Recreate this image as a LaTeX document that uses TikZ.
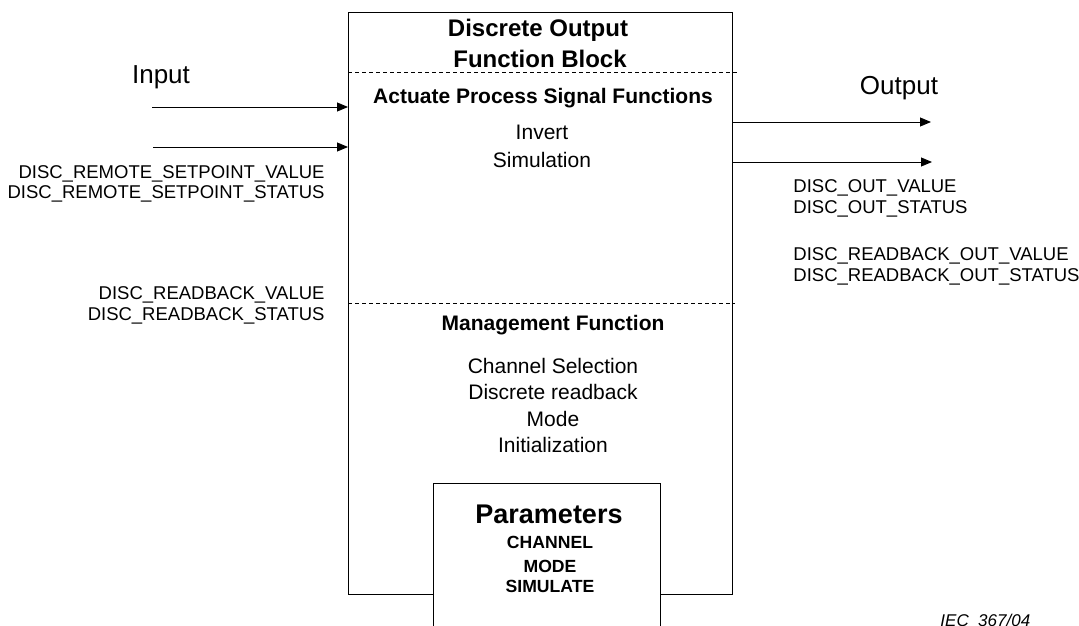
\documentclass[tikz,border=0pt]{standalone}
\usepackage{fontspec}
\setmainfont{Liberation Sans}
\usetikzlibrary{calc}
\usetikzlibrary{arrows.meta}

\tikzset{
    sig/.style={inner sep=0pt, font=\fontsize{18.5}{21}\selectfont},
    io/.style={inner sep=0pt, font=\fontsize{26}{30}\selectfont},
    ttl/.style={inner sep=0pt, anchor=base, font=\bfseries\fontsize{24}{30}\selectfont},
    hd/.style={inner sep=0pt, anchor=base, font=\bfseries\fontsize{21}{26}\selectfont},
    txt/.style={inner sep=0pt, anchor=base, font=\fontsize{21}{26}\selectfont},
    arr/.style={-{Triangle[length=11pt,width=9pt]}}
}

\begin{document}
\begin{tikzpicture}[x=1pt, y=-1pt, line width=0.9pt]
        %FRAME
        \useasboundingbox (0,0) rectangle (1079,626);

        %BLOCK
        \node[draw, anchor=north west, minimum width=384pt, minimum height=582pt,
            inner sep=0pt, outer sep=0pt] (block) at (348,12) {};

        %SEPARATORS
        \draw[dash pattern=on 4pt off 3pt, line width=0.7pt] (block.west |- 0,72) -- (737,72);
        \draw[dash pattern=on 4pt off 3pt, line width=0.7pt] (block.west |- 0,303) -- (735,303);

        %PARAMETERS
        \node[draw, fill=white, anchor=north west, minimum width=227pt, minimum height=160pt,
            inner sep=0pt, outer sep=0pt] (params) at (433,483) {};

        %TITLE
        \node[ttl] (ttl1) at (538,37) {Discrete Output};
        \node[ttl] (ttl2) at (540,67) {Function Block};

        %ACTUATE
        \node[hd] (aps) at (543,103) {Actuate Process Signal Functions};
        \node[txt] (inv) at (542,139) {Invert};
        \node[txt] (sim) at (542,167) {Simulation};

        %MANAGEMENT
        \node[hd] (mgt) at (553,330) {Management Function};
        \foreach \txt/\yy [count=\i] in {Channel Selection/373, Discrete readback/399,
            Mode/426, Initialization/452}
            \node[txt] (mg\i) at (553,\yy) {\txt};

        %PARAMETER LIST
        \node[inner sep=0pt, anchor=base, font=\bfseries\fontsize{27}{30}\selectfont] (par) at (549,523) {Parameters};
        \foreach \txt/\yy [count=\i] in {CHANNEL/548, MODE/572, SIMULATE/592}
            \node[inner sep=0pt, anchor=base, font=\bfseries\fontsize{17.6}{20}\selectfont] (pa\i) at (550,\yy) {\txt};

        %INPUT
        \node[io, anchor=base] (inp) at (161,83) {Input};
        \coordinate (in1) at (152,107);
        \coordinate (in2) at (153,147);
        \draw[arr] (in1) -- (in1 -| block.west);
        \draw[arr] (in2) -- (in2 -| block.west);
        \node[sig, anchor=base east] (rsv) at (325,178) {DISC\_REMOTE\_SETPOINT\_VALUE};
        \node[sig, anchor=base east] (rss) at (325,198) {DISC\_REMOTE\_SETPOINT\_STATUS};
        \node[sig, anchor=base east] (rbv) at (325,299) {DISC\_READBACK\_VALUE};
        \node[sig, anchor=base east] (rbs) at (325,320) {DISC\_READBACK\_STATUS};

        %OUTPUT
        \node[io, anchor=base] (outp) at (899,94) {Output};
        \coordinate (out1) at (931,122);
        \coordinate (out2) at (932,162);
        \draw[arr] (out1 -| block.east) -- (out1);
        \draw[arr] (out2 -| block.east) -- (out2);
        \node[sig, anchor=base west] (ov) at (793,192) {DISC\_OUT\_VALUE};
        \node[sig, anchor=base west] (os) at (793,213) {DISC\_OUT\_STATUS};
        \node[sig, anchor=base west] (obv) at (793,260) {DISC\_READBACK\_OUT\_VALUE};
        \node[sig, anchor=base west] (obs) at (793,281) {DISC\_READBACK\_OUT\_STATUS};

        %IEC
        \node[inner sep=0pt, anchor=base west, font=\itshape\fontsize{17}{20}\selectfont] (iec) at (940,626) {IEC~~367/04};
    \end{tikzpicture}
\end{document}
